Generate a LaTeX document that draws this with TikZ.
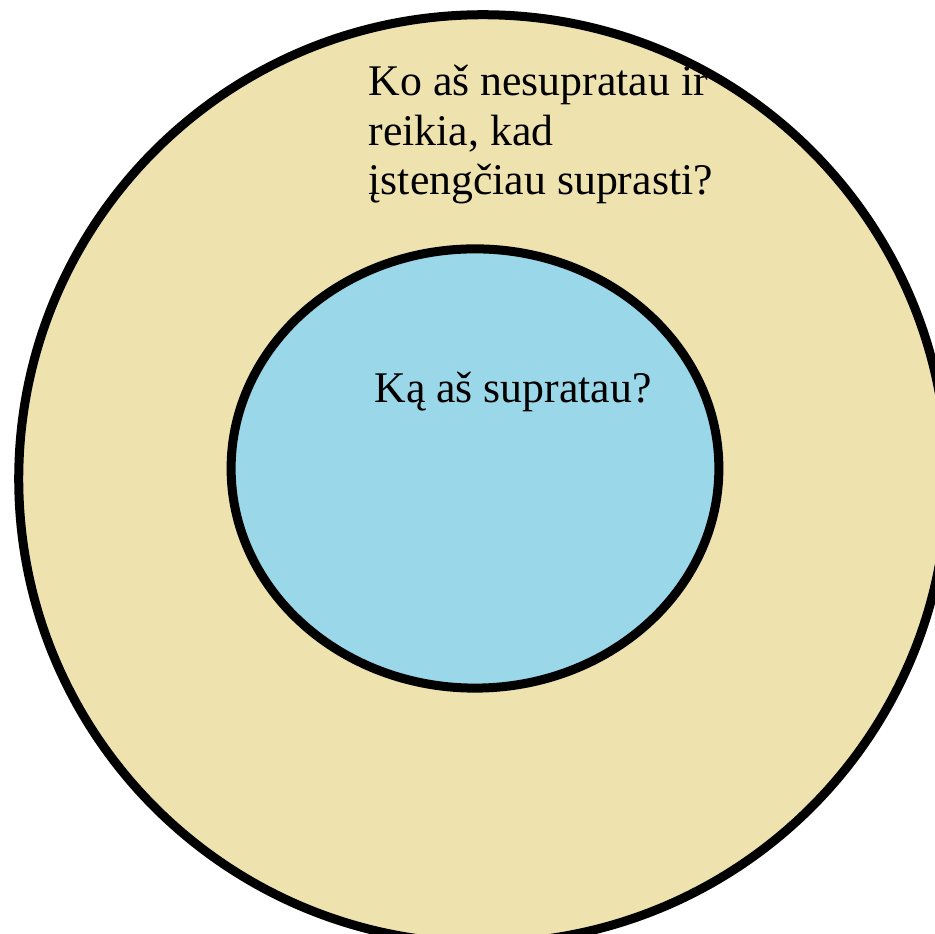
\documentclass[tikz,border=0pt]{standalone}
\usepackage{fontspec}
\setmainfont{Liberation Serif}
\usetikzlibrary{shapes.geometric}
\definecolor{paleSand}{RGB}{238,227,175}
\definecolor{skyFill}{RGB}{154,215,232}
\tikzset{
  ring/.style={draw=black,line width=0.09cm,inner sep=0pt,outer sep=0pt},
  question/.style={inner sep=0pt,font=\fontsize{12.45}{14.2}\selectfont}
}
\begin{document}
\begin{tikzpicture}[x=0.01cm,y=-0.01cm]
\useasboundingbox (0,0) rectangle (935,934);
\clip (0,0) rectangle (935,934);
\node[ring,circle,fill=paleSand,minimum size=9.28cm] (outerCircle) at (483,479) {};
\node[ring,ellipse,fill=skyFill,minimum width=4.875cm,minimum height=4.39cm] (innerEllipse) at (475,468.5) {};
\node[question,anchor=base west,align=left] (outerQuestion) at (368,195) {Ko aš nesupratau ir\\reikia, kad\\įstengčiau suprasti?};
\node[question,anchor=base] (innerQuestion) at (513,403) {Ką aš supratau?};
\end{tikzpicture}
\end{document}
